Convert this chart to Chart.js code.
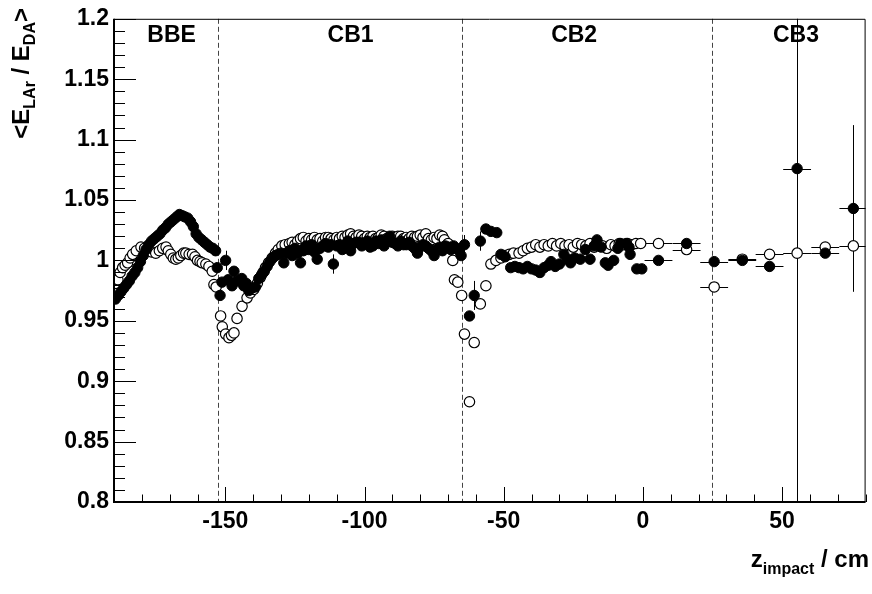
<!DOCTYPE html>
<html>
<head>
<meta charset="utf-8">
<script src="https://cdn.jsdelivr.net/npm/chart.js@4.4.1/dist/chart.umd.min.js"></script>
<style>
html, body { margin: 0; padding: 0; background: #fff; }
</style>
</head>
<body>
<canvas id="chart" width="872" height="594"></canvas>
<script>
// filled markers (data), fine bins
const dataZ = [
  -189.5, -188.5, -187.5, -186.5, -185.5, -184.5, -183.5, -182.5, -181.5, -180.5,
  -179.5, -178.5, -177.5, -176.5, -175.5, -174.5, -173.5, -172.5, -171.5, -170.5,
  -169.5, -168.5, -167.5, -166.5, -165.5, -164.5, -163.5, -162.5, -161.5, -160.5,
  -159.5, -158.5, -157.5, -156.5, -155.5, -154.5, -153.5, -152.9, -151.9, -151.2,
  -149.9, -149.0, -147.6, -146.9, -145.8, -144.1, -143.4, -142.5, -141.6, -140.5, -139.2,
  -138, -137, -136, -135, -134, -133, -132, -131, -130, -129, -128, -127, -126, -125,
  -124, -123, -122, -121, -120, -119, -118, -117, -116, -115, -114, -113, -112, -111.2,
  -110, -109, -108, -107, -106, -105, -104, -103, -102, -101, -100, -99, -98, -97, -96,
  -95, -94, -93, -92, -91, -90, -89, -88, -87, -86, -85, -84, -83, -82, -81, -80, -79,
  -78, -77, -76, -75, -74, -73, -72, -71, -70, -69, -68, -67, -66, -65.3, -64.1,
  -62.3, -60.6, -58.4, -56.4, -54.6, -52.5, -51.0, -49.5, -47.5, -46, -44.5, -43, -41.5,
  -40, -38.5, -37, -35.5, -34, -33, -31.5, -30, -28.4, -27, -26, -24.5, -22.5, -20.7,
  -19, -17.5, -16.5, -15, -13.5, -12.5, -10.5, -9, -8, -6, -5, -4.6, -2.2, -0.4
];
const dataR = [
  0.968, 0.971, 0.974, 0.977, 0.980, 0.983, 0.987, 0.990, 0.994, 0.999,
  1.004, 1.009, 1.013, 1.016, 1.018, 1.020, 1.022, 1.025, 1.027, 1.030,
  1.032, 1.034, 1.036, 1.038, 1.037, 1.036, 1.035, 1.032, 1.028, 1.022,
  1.019, 1.017, 1.015, 1.013, 1.011, 1.010, 1.008, 0.994, 0.971, 0.982,
  1.000, 0.984, 0.979, 0.991, 0.983, 0.985, 0.979, 0.981, 0.975, 0.977, 0.978,
  0.985, 0.988, 0.991, 0.995, 0.999, 1.002, 1.004, 1.005, 1.006, 0.998, 1.006, 1.008, 1.004, 1.010,
  1.006, 0.998, 1.008, 1.012, 1.009, 1.013, 1.007, 1.001, 1.010, 1.012, 1.014, 1.011, 1.013, 0.997,
  1.012, 1.013, 1.009, 1.012, 1.016, 1.008, 1.014, 1.015, 1.015, 1.012, 1.014, 1.016, 1.011, 1.012, 1.016,
  1.014, 1.017, 1.012, 1.016, 1.020, 1.015, 1.014, 1.012, 1.016, 1.013, 1.013, 1.015, 1.012, 1.010, 1.006, 1.011, 1.013,
  1.012, 1.010, 1.008, 1.004, 1.009, 1.011, 1.008, 1.012, 1.011, 1.009, 1.012, 1.010, 1.008, 1.004, 1.013,
  0.954, 0.971, 1.016, 1.026, 1.024, 1.023, 1.005, 1.003, 0.994, 0.995, 0.994, 0.993, 0.995,
  0.993, 0.992, 0.990, 0.994, 0.996, 0.999, 0.995, 0.997, 1.005, 1.001, 0.998, 1.002, 1.001, 1.009,
  1.001, 1.012, 1.017, 1.011, 0.998, 0.996, 1.000, 1.010, 1.014, 1.014, 1.011, 1.005, 0.993, 0.993
];

// open markers (simulation), fine bins
const mcZ = [
  -189.3, -188.6, -187.8, -186.9, -186, -185.1, -184.2, -183.3, -182, -180.3,
  -179, -177.9, -176.5, -175, -173.7, -172.5, -171.3, -170.5, -169.6, -168.7,
  -167.8, -166.9, -166, -165, -164.2, -163, -161.8, -160.9, -160, -159.1,
  -158.3, -157, -155.9, -154.7, -154.1, -153.3, -151.7, -151.1, -149.9, -148.7,
  -147.8, -146.9, -145.8, -144.0, -142.2, -141, -139.8, -138.5, -137.4, -136.5,
  -135.6, -134.5, -133.2, -132, -131, -129.7, -128.5, -127, -126, -125,
  -124, -123, -122, -121, -120, -119, -118, -117, -116, -115, -114, -113, -112, -111,
  -110, -109, -108, -107, -106, -105, -104, -103, -102, -101, -100, -99, -98, -97,
  -96, -95, -94, -93, -92, -91, -90, -89, -88, -87, -86, -85, -84, -83, -82, -81,
  -80, -79, -78, -77, -76, -75, -74, -73, -72, -71.3, -70, -69, -68.3, -67.7, -66.5,
  -65.1, -64.1, -62.3, -60.6, -58.4, -56.4, -54.6, -52.8, -51.0, -49.5, -48, -46.5,
  -44.5, -43, -41.5, -40, -38.5, -37, -35.5, -34, -32.5, -31, -29.5, -28, -26.5,
  -25, -23.5, -22, -20.5, -19, -17.5, -16, -14.5, -13, -11.5, -10, -8.5, -7, -5.5,
  -4, -2.5, -0.8
];
const mcR = [
  0.981, 0.984, 0.990, 0.994, 0.996, 0.998, 1.002, 1.005, 1.008, 1.011,
  1.010, 1.009, 1.007, 1.006, 1.008, 1.010, 1.011, 1.008, 1.005, 1.002,
  1.001, 1.002, 1.004, 1.006, 1.006, 1.005, 1.005, 1.003, 1.000, 0.999,
  0.998, 0.997, 0.995, 0.991, 0.980, 0.978, 0.954, 0.945, 0.939, 0.936,
  0.938, 0.940, 0.952, 0.962, 0.969, 0.973, 0.976, 0.981, 0.986, 0.990,
  0.994, 0.998, 1.002, 1.006, 1.009, 1.012, 1.013, 1.014, 1.015, 1.013,
  1.016, 1.018, 1.019, 1.016, 1.018, 1.017, 1.019, 1.017, 1.018, 1.016, 1.019, 1.019, 1.018, 1.017,
  1.019, 1.018, 1.020, 1.019, 1.021, 1.022, 1.020, 1.019, 1.021, 1.020, 1.018, 1.020, 1.019, 1.020,
  1.018, 1.019, 1.021, 1.020, 1.018, 1.019, 1.020, 1.019, 1.020, 1.020, 1.018, 1.019, 1.018, 1.020, 1.019, 1.020,
  1.021, 1.019, 1.022, 1.018, 1.017, 1.019, 1.018, 1.021, 1.020, 1.017, 1.014, 1.010, 1.000, 0.984, 0.982,
  0.971, 0.939, 0.883, 0.932, 0.964, 0.979, 0.997, 1.000, 1.002, 1.004, 1.005, 1.006,
  1.006, 1.008, 1.010, 1.011, 1.013, 1.011, 1.013, 1.012, 1.014, 1.012, 1.014, 1.012, 1.013,
  1.011, 1.014, 1.013, 1.012, 1.014, 1.011, 1.013, 1.012, 1.010, 1.013, 1.012, 1.014, 1.013, 1.014,
  1.013, 1.014, 1.014
];

// coarse bins (z > 0), both series, with half-width
const coarseZ = [5.6, 15.7, 25.6, 35.7, 45.5, 55.4, 65.5, 75.6];
const coarseData = [1.000, 1.014, 0.999, 1.000, 0.995, 1.076, 1.006, 1.043];
const coarseMc = [1.014, 1.009, 0.978, 1.001, 1.005, 1.006, 1.011, 1.012];
const coarseHalfWidth = 5;

// visible vertical error bars on the filled markers
const dataErrZ = [-149.9, -111.2, -64.1, -60.6, -58.4, 55.4, 75.6];
const dataErrR = [0.008, 0.008, 0.008, 0.012, 0.008, 0.5, 0.069];

// calorimeter region boundaries and names
const boundaries = [-152.5, -65, 25];
const regionNames = ['BBE', 'CB1', 'CB2', 'CB3'];
const regionCenters = [-169.3, -105, -24.7, 55];

const xTicks = [-150, -100, -50, 0, 50];
const yTicks = [0.8, 0.85, 0.9, 0.95, 1.0, 1.05, 1.1, 1.15, 1.2];

const FONT = "'Liberation Sans', Arial, Helvetica, sans-serif";
Chart.defaults.font.family = FONT;

const toPoints = (xs, ys) => xs.map((v, i) => ({ x: v, y: ys[i] }));

function drawParts(ctx, parts, size, subSize, subDrop) {
  let pos = 0;
  parts.forEach(p => {
    ctx.font = 'bold ' + (p.sub ? subSize : size) + 'px ' + FONT;
    ctx.fillText(p.t, pos, p.sub ? subDrop : 0);
    pos += ctx.measureText(p.t).width;
  });
  return pos;
}
function partsWidth(ctx, parts, size, subSize) {
  let w = 0;
  parts.forEach(p => {
    ctx.font = 'bold ' + (p.sub ? subSize : size) + 'px ' + FONT;
    w += ctx.measureText(p.t).width;
  });
  return w;
}

const decorations = {
  id: 'decorations',
  beforeDatasetsDraw(chart) {
    const { ctx, chartArea: a, scales: { x, y } } = chart;
    ctx.save();
    // region separators
    ctx.strokeStyle = '#444';
    ctx.lineWidth = 1;
    ctx.setLineDash([5, 3]);
    boundaries.forEach(b => {
      const px = Math.round(x.getPixelForValue(b)) + 0.5;
      ctx.beginPath();
      ctx.moveTo(px, a.top);
      ctx.lineTo(px, a.bottom);
      ctx.stroke();
    });
    ctx.setLineDash([]);

    // region names
    ctx.fillStyle = '#000';
    ctx.font = 'bold 23px ' + FONT;
    ctx.textAlign = 'center';
    ctx.textBaseline = 'alphabetic';
    regionNames.forEach((n, i) => ctx.fillText(n, x.getPixelForValue(regionCenters[i]), 42));

    // error bars
    ctx.beginPath();
    ctx.rect(a.left, a.top, a.right - a.left, a.bottom - a.top);
    ctx.clip();
    ctx.strokeStyle = '#000';
    ctx.lineWidth = 1;
    const seg = (x1, y1, x2, y2) => {
      ctx.beginPath(); ctx.moveTo(x1, y1); ctx.lineTo(x2, y2); ctx.stroke();
    };
    dataErrZ.forEach((z, i) => {
      const k = dataZ.indexOf(z);
      const r = k >= 0 ? dataR[k] : coarseData[coarseZ.indexOf(z)];
      const px = Math.round(x.getPixelForValue(z)) + 0.5;
      seg(px, y.getPixelForValue(r + dataErrR[i]), px, y.getPixelForValue(r - dataErrR[i]));
    });
    [coarseData, coarseMc].forEach(vals => {
      coarseZ.forEach((z, i) => {
        const py = Math.round(y.getPixelForValue(vals[i])) + 0.5;
        seg(x.getPixelForValue(z - coarseHalfWidth), py, x.getPixelForValue(z + coarseHalfWidth), py);
      });
    });
    ctx.restore();
  },
  afterDraw(chart) {
    const { ctx, chartArea: a, scales: { x, y } } = chart;
    ctx.save();
    ctx.strokeStyle = '#000';
    ctx.lineWidth = 1;
    // y ticks: majors every 0.05, minors every 0.01
    for (let i = 0; i <= 40; i++) {
      const py = Math.round(y.getPixelForValue(0.8 + i * 0.01)) + 0.5;
      const len = i % 5 === 0 ? 22 : 11;
      ctx.beginPath(); ctx.moveTo(a.left, py); ctx.lineTo(a.left + len, py); ctx.stroke();
    }
    // x ticks: majors every 50, minors every 10
    for (let v = -180; v <= 80; v += 10) {
      const px = Math.round(x.getPixelForValue(v)) + 0.5;
      const len = v % 50 === 0 ? 15 : 7.5;
      ctx.beginPath(); ctx.moveTo(px, a.bottom); ctx.lineTo(px, a.bottom - len); ctx.stroke();
    }
    // frame
    ctx.beginPath();
    ctx.moveTo(a.left, a.top + 0.5); ctx.lineTo(a.right - 0.5, a.top + 0.5); ctx.lineTo(a.right - 0.5, a.bottom);
    ctx.stroke();
    ctx.lineWidth = 2;
    ctx.beginPath();
    ctx.moveTo(a.left, a.top); ctx.lineTo(a.left, a.bottom); ctx.lineTo(a.right, a.bottom);
    ctx.stroke();

    // axis titles
    ctx.fillStyle = '#000';
    ctx.textAlign = 'left';
    ctx.textBaseline = 'alphabetic';
    const yParts = [{ t: '<E' }, { t: 'LAr', sub: true }, { t: ' / E' }, { t: 'DA', sub: true }, { t: '>' }];
    const yw = partsWidth(ctx, yParts, 24, 16);
    ctx.save();
    ctx.translate(29, 8 + yw);
    ctx.rotate(-Math.PI / 2);
    drawParts(ctx, yParts, 24, 16, 6);
    ctx.restore();

    const xParts = [{ t: 'z' }, { t: 'impact', sub: true }, { t: ' / cm' }];
    const xw = partsWidth(ctx, xParts, 24, 16);
    ctx.save();
    ctx.translate(869 - xw, 567);
    drawParts(ctx, xParts, 24, 16, 7);
    ctx.restore();
    ctx.restore();
  }
};

new Chart(document.getElementById('chart'), {
  type: 'scatter',
  data: {
    datasets: [
      {
        label: 'data',
        data: toPoints(dataZ, dataR).concat(toPoints(coarseZ, coarseData)),
        pointRadius: 5.2,
        pointBackgroundColor: '#000',
        pointBorderColor: '#000',
        pointBorderWidth: 1
      },
      {
        label: 'simulation',
        data: toPoints(mcZ, mcR).concat(toPoints(coarseZ, coarseMc)),
        pointRadius: 5.2,
        pointBackgroundColor: '#fff',
        pointBorderColor: '#000',
        pointBorderWidth: 1.2
      }
    ]
  },
  options: {
    responsive: false,
    animation: false,
    layout: { padding: { top: 17, right: 2, left: 0, bottom: 0 } },
    plugins: { legend: { display: false }, tooltip: { enabled: false } },
    scales: {
      x: {
        type: 'linear',
        min: -190,
        max: 80,
        grid: { display: false, drawTicks: false },
        border: { display: false },
        afterBuildTicks: s => { s.ticks = xTicks.map(v => ({ value: v })); },
        afterFit: s => { s.height = 92; },
        ticks: {
          autoSkip: false, maxRotation: 0, padding: 6, color: '#000',
          font: { size: 23, weight: 'bold' },
          callback: v => String(v)
        }
      },
      y: {
        type: 'linear',
        min: 0.8,
        max: 1.2,
        grid: { display: false, drawTicks: false },
        border: { display: false },
        afterBuildTicks: s => { s.ticks = yTicks.map(v => ({ value: v })); },
        afterFit: s => { s.width = 114; },
        ticks: {
          autoSkip: false, padding: 5, color: '#000',
          font: { size: 23, weight: 'bold' },
          callback: v => String(Number(v.toFixed(2)))
        }
      }
    }
  },
  plugins: [decorations]
});
</script>
</body>
</html>
